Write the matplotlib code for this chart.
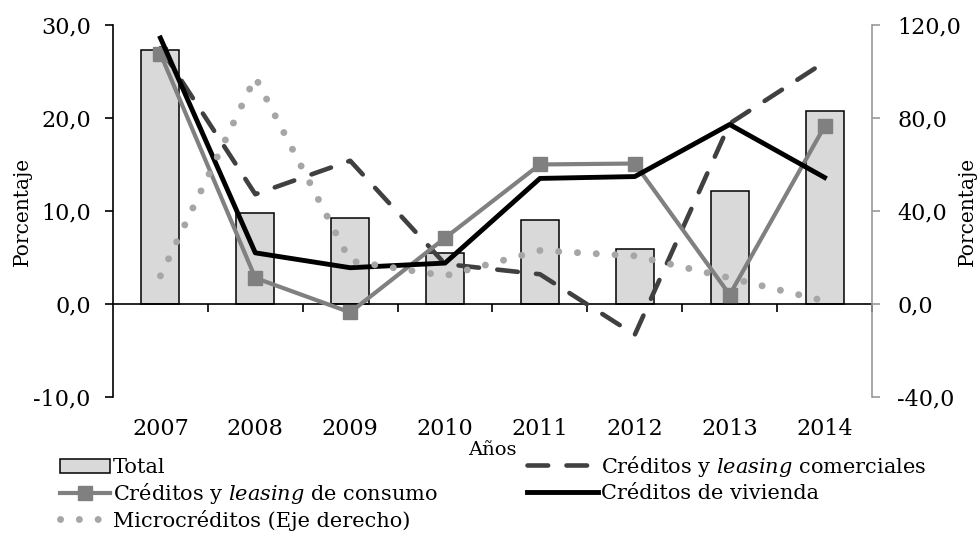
import matplotlib
matplotlib.use('Agg')
import matplotlib.pyplot as plt
from matplotlib.ticker import FuncFormatter

plt.rcParams['font.family'] = 'DejaVu Serif'
plt.rcParams['mathtext.fontset'] = 'dejavuserif'

# ---- data ------------------------------------------------------------------
years = ['2007', '2008', '2009', '2010', '2011', '2012', '2013', '2014']
total = [27.3, 9.8, 9.2, 5.5, 9.0, 5.9, 12.2, 20.8]
comerciales = [27.5, 11.8, 15.4, 4.3, 3.2, -3.3, 19.4, 26.0]
consumo = [26.9, 2.8, -0.9, 7.1, 15.0, 15.1, 1.0, 19.1]
vivienda = [28.6, 5.5, 3.9, 4.4, 13.5, 13.7, 19.3, 13.6]
micro = [12.1, 97.5, 18.5, 12.1, 23.0, 20.7, 11.2, 1.3]   # right axis

x = list(range(len(years)))

fig = plt.figure(figsize=(9.8, 5.48), dpi=100)
ax = fig.add_axes([0.1153, 0.2755, 0.7745, 0.679])
ax2 = ax.twinx()

bars = ax.bar(x, total, width=0.4, color='#d9d9d9', edgecolor='black', lw=1.1,
              label='Total', zorder=2)
l_com, = ax.plot(x, comerciales, color='#404040', lw=3.3, dashes=(4.5, 4),
                 dash_capstyle='round', label=r'Créditos y $\mathit{leasing}$ comerciales', zorder=3)
l_con, = ax.plot(x, consumo, color='#808080', lw=3, marker='s', ms=10,
                 label=r'Créditos y $\mathit{leasing}$ de consumo', zorder=4)
l_viv, = ax.plot(x, vivienda, color='black', lw=3.5,
                 label='Créditos de vivienda', zorder=5)
l_mic, = ax2.plot(x, micro, color='#a6a6a6', lw=5, linestyle=(0, (0.01, 2.7)),
                  dash_capstyle='round', label='Microcréditos (Eje derecho)')

comma = FuncFormatter(lambda v, p: f'{v:.1f}'.replace('.', ','))

ax.set_xlim(-0.5, 7.5)
ax.set_ylim(-10, 30)
ax.set_yticks([-10, 0, 10, 20, 30])
ax.yaxis.set_major_formatter(comma)
ax.spines['top'].set_visible(False)
ax.spines['right'].set_visible(False)
ax.spines['bottom'].set_position(('data', 0))
ax.spines['bottom'].set_linewidth(1.2)
ax.spines['left'].set_linewidth(1.2)
ax.set_xticks(x)
ax.set_xticklabels(years, fontsize=16)
ax.set_xticks([i + 0.5 for i in x], minor=True)
ax.tick_params(axis='x', which='major', length=0, pad=82)
ax.tick_params(axis='x', which='minor', length=6, width=1.2, direction='out')
ax.tick_params(axis='y', labelsize=16, length=6, width=1.2, pad=10)
ax.set_ylabel('Porcentaje', fontsize=14.5)
ax.yaxis.set_label_coords(-0.107, 0.5)
ax.set_xlabel('Años', fontsize=14)
ax.xaxis.set_label_coords(0.5, -0.118)

ax2.set_ylim(-40, 120)
ax2.set_yticks([-40, 0, 40, 80, 120])
ax2.yaxis.set_major_formatter(comma)
for s in ['top', 'left', 'bottom']:
    ax2.spines[s].set_visible(False)
ax2.spines['right'].set_color('#999999')
ax2.spines['right'].set_linewidth(1.2)
ax2.tick_params(axis='y', labelsize=16, length=6, width=1.2, color='#999999', pad=12)
ax2.set_ylabel('Porcentaje', fontsize=14.5)
ax2.yaxis.set_label_coords(1.113, 0.5)

h1 = [bars, l_con, l_mic]
h2 = [l_com, l_viv]
leg1 = fig.legend(h1, [h.get_label() for h in h1], loc='upper left',
                  bbox_to_anchor=(0.0612, 0.164), frameon=False, fontsize=15,
                  handlelength=2.4, handletextpad=0.15, labelspacing=0.18,
                  borderpad=0, borderaxespad=0)
leg2 = fig.legend(h2, [h.get_label() for h in h2], loc='upper left',
                  bbox_to_anchor=(0.538, 0.172), frameon=False, fontsize=15,
                  handlelength=3.4, handletextpad=0.15, labelspacing=0.26,
                  borderpad=0, borderaxespad=0)

fig.savefig('out.png', dpi=100)
